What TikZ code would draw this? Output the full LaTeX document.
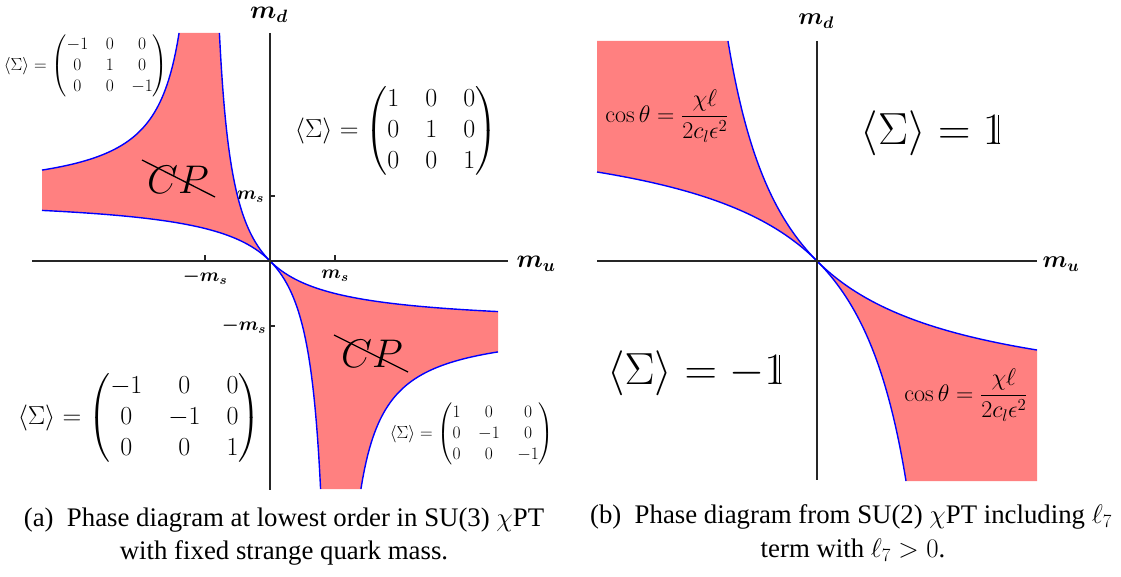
\documentclass[tikz,border=0pt]{standalone}
\usepackage{fix-cm}
\usepackage{amsmath}
\usepackage[no-math]{fontspec}
\setmainfont{Liberation Serif}
\usepackage{bm}
\newcommand{\fsz}[2]{\fontsize{#1}{#2}\selectfont\setlength{\arraycolsep}{0.5em}}
\newcommand{\dsone}{\text{\rlap{$\mathrm{1}$}\kern0.325em\vrule height0.645em depth0pt width0.028em\kern0.147em}}
\begin{document}
\begin{tikzpicture}[x=1pt,y=-1pt,
  axis/.style={draw=black!85,line width=1.3pt},
  bound/.style={draw=blue,line width=1.4pt},
  phase/.style={fill=red!50},
  slash/.style={draw=black,line width=1.3pt},
  lab/.style={inner sep=0pt,outer sep=0pt},
  bigmat/.style={lab,font=\fsz{26}{31}},
  smallmat/.style={lab,font=\fsz{17.5}{21}},
  axlab/.style={lab,font=\fsz{25.5}{30}},
  axlabb/.style={lab,font=\fsz{24}{28}},
  ticklab/.style={lab,font=\fsz{19}{23}},
  cptext/.style={lab,font=\fsz{40}{44}},
  formula/.style={lab,font=\fsz{24}{28}},
  ident/.style={lab,font=\fsz{45}{50}},
  caption/.style={lab,font=\fsz{26.8}{32}}]
\useasboundingbox (0,0) rectangle (1121,577);

% ---------------- panel (a) ----------------
\begin{scope}[shift={(270,261)}]
  \foreach \s in {1,-1}{
    \begin{scope}[scale=\s]
      \fill[phase] (0,0)
        -- plot[domain=0:-228,samples=80] (\x,{\x/(1-\x/65)})
        -- plot[domain=-228:-90.92,samples=80] (\x,{65*\x/(-\x-65)})
        -- plot[domain=228:0,samples=80] ({-\x/(1+\x/65)},{-\x})
        -- cycle;
      \draw[bound] plot[domain=0:-228,samples=80] (\x,{\x/(1-\x/65)});
      \draw[bound] plot[domain=-228:-90.92,samples=80] (\x,{65*\x/(-\x-65)});
      \draw[bound] plot[domain=228:0,samples=80] ({-\x/(1+\x/65)},{-\x});
    \end{scope}
  }
  \draw[axis] (-238,0) -- (238,0);
  \draw[axis] (0,-228) -- (0,229);
  \draw[axis] (0,-65) -- (5,-65);
  \draw[axis] (0,65) -- (5,65);
  \draw[axis] (-65,0) -- (-65,-6);
  \draw[axis] (65,0) -- (65,-6);
\end{scope}

\node[axlab] (mda) at (269,15) {$\bm{m_d}$};
\node[axlab] (mua) at (536,264) {$\bm{m_u}$};
\node[ticklab,anchor=east] (msv) at (264,197) {$\bm{m_s}$};
\node[ticklab,anchor=east] (mmsv) at (266,326) {$\bm{-m_s}$};
\node[ticklab] (mmsh) at (205,277) {$\bm{-m_s}$};
\node[ticklab] (msh) at (335,276) {$\bm{m_s}$};

\node[smallmat] (mattl) at (86,66) {$\langle\Sigma\rangle=\begin{pmatrix}-1&0&0\\0&1&0\\0&0&-1\end{pmatrix}$};
\node[bigmat] (mattr) at (396,131) {$\langle\Sigma\rangle=\begin{pmatrix}1&0&0\\0&1&0\\0&0&1\end{pmatrix}$};
\node[bigmat] (matbl) at (139,418) {$\langle\Sigma\rangle=\begin{pmatrix}-1&0&0\\0&-1&0\\0&0&1\end{pmatrix}$};
\node[smallmat] (matbr) at (472,434) {$\langle\Sigma\rangle=\begin{pmatrix}1&0&0\\0&-1&0\\0&0&-1\end{pmatrix}$};

\node[cptext] (cpa) at (178,180) {$CP$};
\draw[slash] (142,160) -- (215,197);
\node[cptext] (cpb) at (372,354) {$CP$};
\draw[slash] (334,335) -- (408,372);

% ---------------- panel (b) ----------------
\begin{scope}[shift={(817,261)}]
  \foreach \s in {1,-1}{
    \begin{scope}[scale=\s]
      \fill[phase] (0,0)
        -- plot[domain=0:-220,samples=80] (\x,{\x/(1-\x/149.5)})
        -- (-220,-220)
        -- plot[domain=220:0,samples=80] ({-\x/(1+\x/149.5)},{-\x})
        -- cycle;
      \draw[bound] plot[domain=0:-220,samples=80] (\x,{\x/(1-\x/149.5)});
      \draw[bound] plot[domain=220:0,samples=80] ({-\x/(1+\x/149.5)},{-\x});
    \end{scope}
  }
  \draw[axis] (-220,0) -- (220,0);
  \draw[axis] (0,-220) -- (0,219);
\end{scope}

\node[axlabb] (mdb) at (816,21) {$\bm{m_d}$};
\node[axlabb] (mub) at (1061,264) {$\bm{m_u}$};
\node[ident] (sone) at (933,133) {$\langle\Sigma\rangle=\dsone$};
\node[ident] (smone) at (697,373) {$\langle\Sigma\rangle=-\dsone$};
\node[formula] (cosa) at (667,116) {$\cos\theta=\dfrac{\chi\ell}{2c_l\epsilon^2}$};
\node[formula] (cosb) at (966,395) {$\cos\theta=\dfrac{\chi\ell}{2c_l\epsilon^2}$};

% ---------------- captions ----------------
\node[caption] (capa1) at (284,520) {(a)\enspace Phase diagram at lowest order in SU(3) $\chi$PT};
\node[caption] (capa2) at (284,553) {with fixed strange quark mass.};
\node[caption] (capb1) at (851,517) {(b)\enspace Phase diagram from SU(2) $\chi$PT including $\ell_7$};
\node[caption] (capb2) at (853,550) {term with $\ell_7>0$.};
\end{tikzpicture}
\end{document}
